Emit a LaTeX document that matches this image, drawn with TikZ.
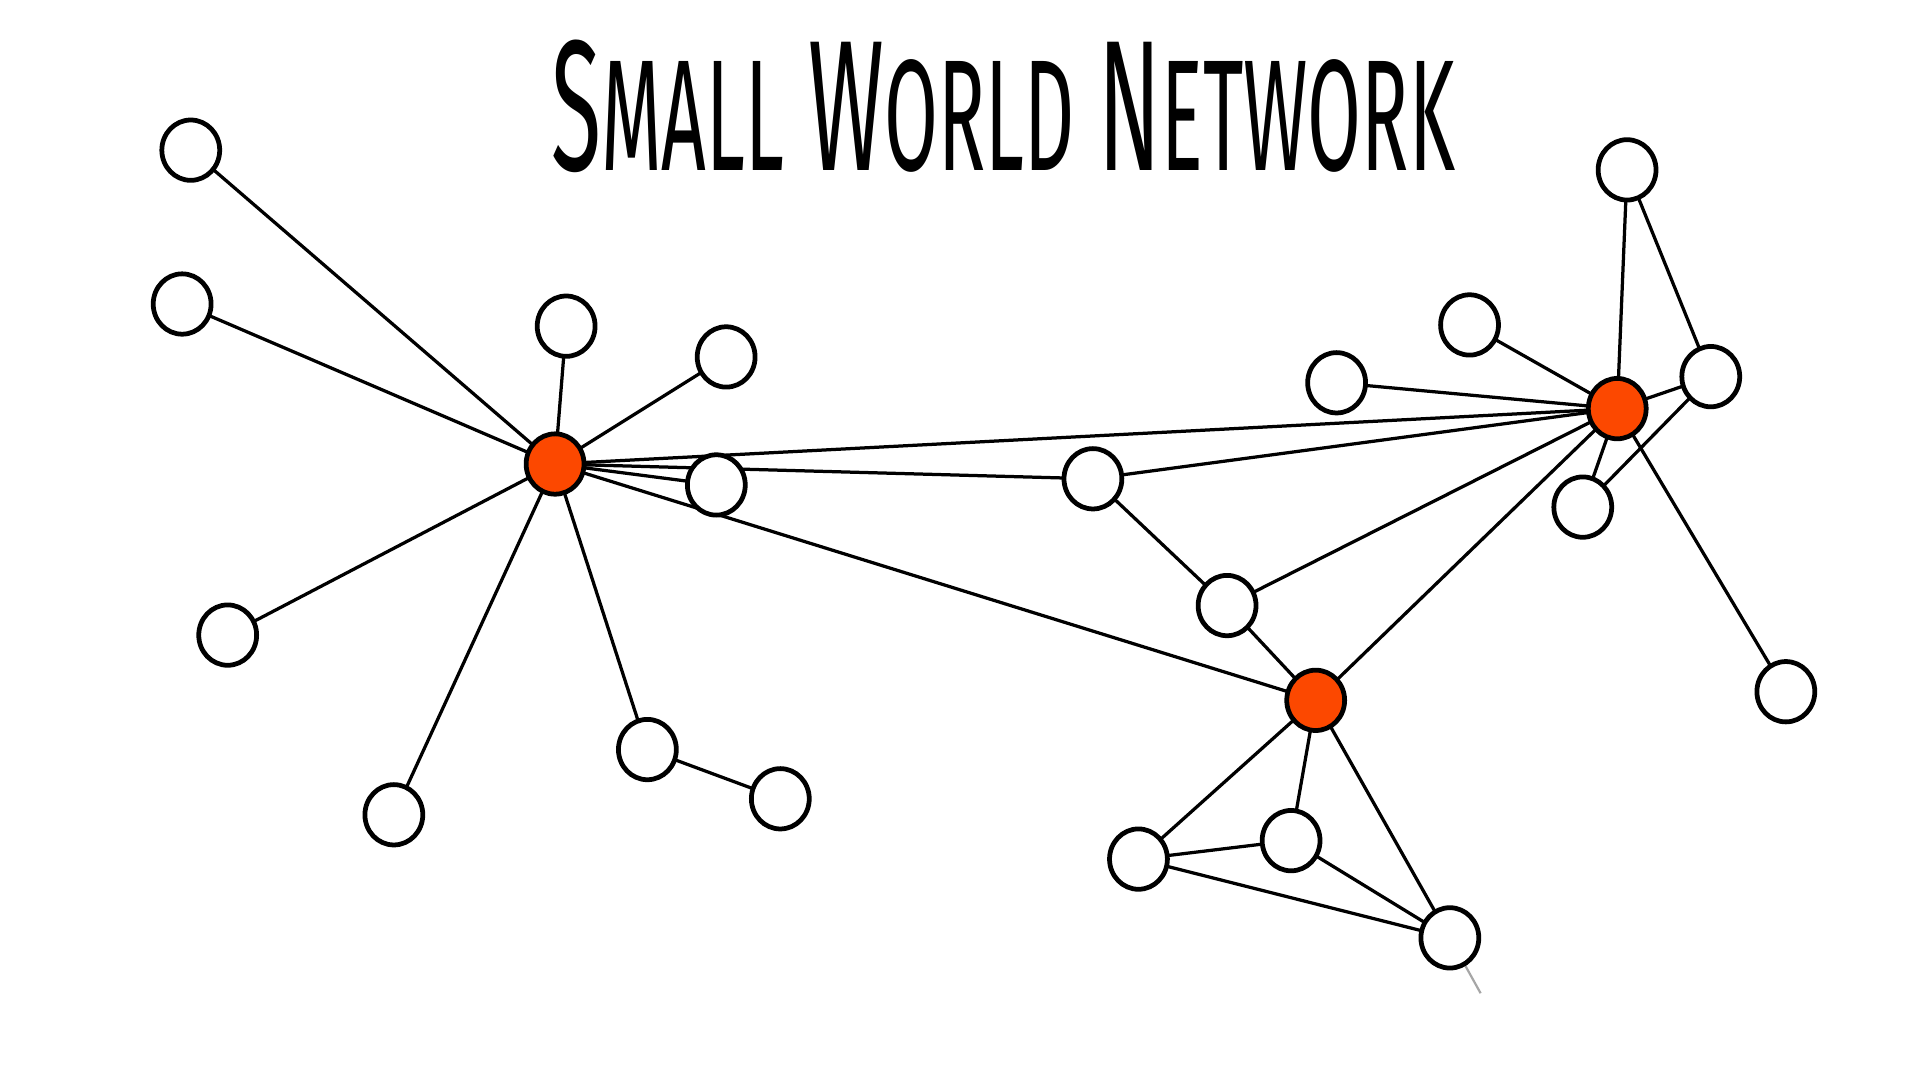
\documentclass[tikz,border=0pt]{standalone}
\usepackage{fontspec}
\setmainfont{Fira Sans}
\usetikzlibrary{shapes.geometric,backgrounds}
\definecolor{hubred}{RGB}{252,72,0}
\tikzset{
  wnode/.style={ellipse,draw=black,line width=1.1pt,fill=white,minimum width=0.47cm,minimum height=0.49cm,inner sep=0pt},
  hnode/.style={wnode,fill=hubred},
  link/.style={draw=black,line width=0.75pt},
  faint/.style={draw=black!35,line width=0.5pt}
}
\begin{document}
\begin{tikzpicture}[x=0.01cm,y=-0.01cm]
\useasboundingbox (0,0) rectangle (1560,877.5);
% title
\node[inner sep=0pt,anchor=south] (title) at (815,141)
  {\resizebox{7.34cm}{1.06cm}{\fontsize{40}{40}\selectfont S{\fontsize{34}{34}\selectfont MALL} W{\fontsize{34}{34}\selectfont ORLD} N{\fontsize{34}{34}\selectfont ETWORK}}};
% hubs
\node[hnode] (H1) at (451,377) {};
\node[hnode] (H2) at (1314,332) {};
\node[hnode] (H3) at (1069,569) {};
% white nodes
\node[wnode] (A) at (155,122) {};
\node[wnode] (B) at (148,247) {};
\node[wnode] (C) at (460,265) {};
\node[wnode] (D) at (590,290) {};
\node[wnode] (E) at (582,394) {};
\node[wnode] (F) at (185,516) {};
\node[wnode] (G) at (320,662) {};
\node[wnode] (Hn) at (526,609) {};
\node[wnode] (I) at (634,649) {};
\node[wnode] (J) at (1322,138) {};
\node[wnode] (K) at (1194,264) {};
\node[wnode] (L) at (1086,311) {};
\node[wnode] (M) at (1390,306) {};
\node[wnode] (N) at (888,389) {};
\node[wnode] (O) at (1286,412) {};
\node[wnode] (P) at (997,492) {};
\node[wnode] (Q) at (1451,562) {};
\node[wnode] (R) at (925,698) {};
\node[wnode] (S) at (1049,683) {};
\node[wnode] (T) at (1178,762) {};
\coordinate (tailend) at (1203,807);
\begin{scope}[on background layer]
\fill[white] (0,0) rectangle (1560,877.5);
\foreach \n in {A,B,C,D,E,F,G,Hn,N,H2,H3}{\draw[link] (H1.center) -- (\n.center);}
\draw[link] (Hn.center) -- (I.center);
\foreach \n in {J,K,L,M,O,Q,N,P,H3}{\draw[link] (H2.center) -- (\n.center);}
\draw[link] (J.center) -- (M.center);
\draw[link] (M.center) -- (O.center);
\draw[link] (N.center) -- (P.center);
\draw[link] (P.center) -- (H3.center);
\foreach \n in {R,S,T}{\draw[link] (H3.center) -- (\n.center);}
\draw[link] (R.center) -- (S.center);
\draw[link] (R.center) -- (T.center);
\draw[link] (S.center) -- (T.center);
\draw[faint] (T.center) -- (tailend);
\end{scope}
\end{tikzpicture}
\end{document}
